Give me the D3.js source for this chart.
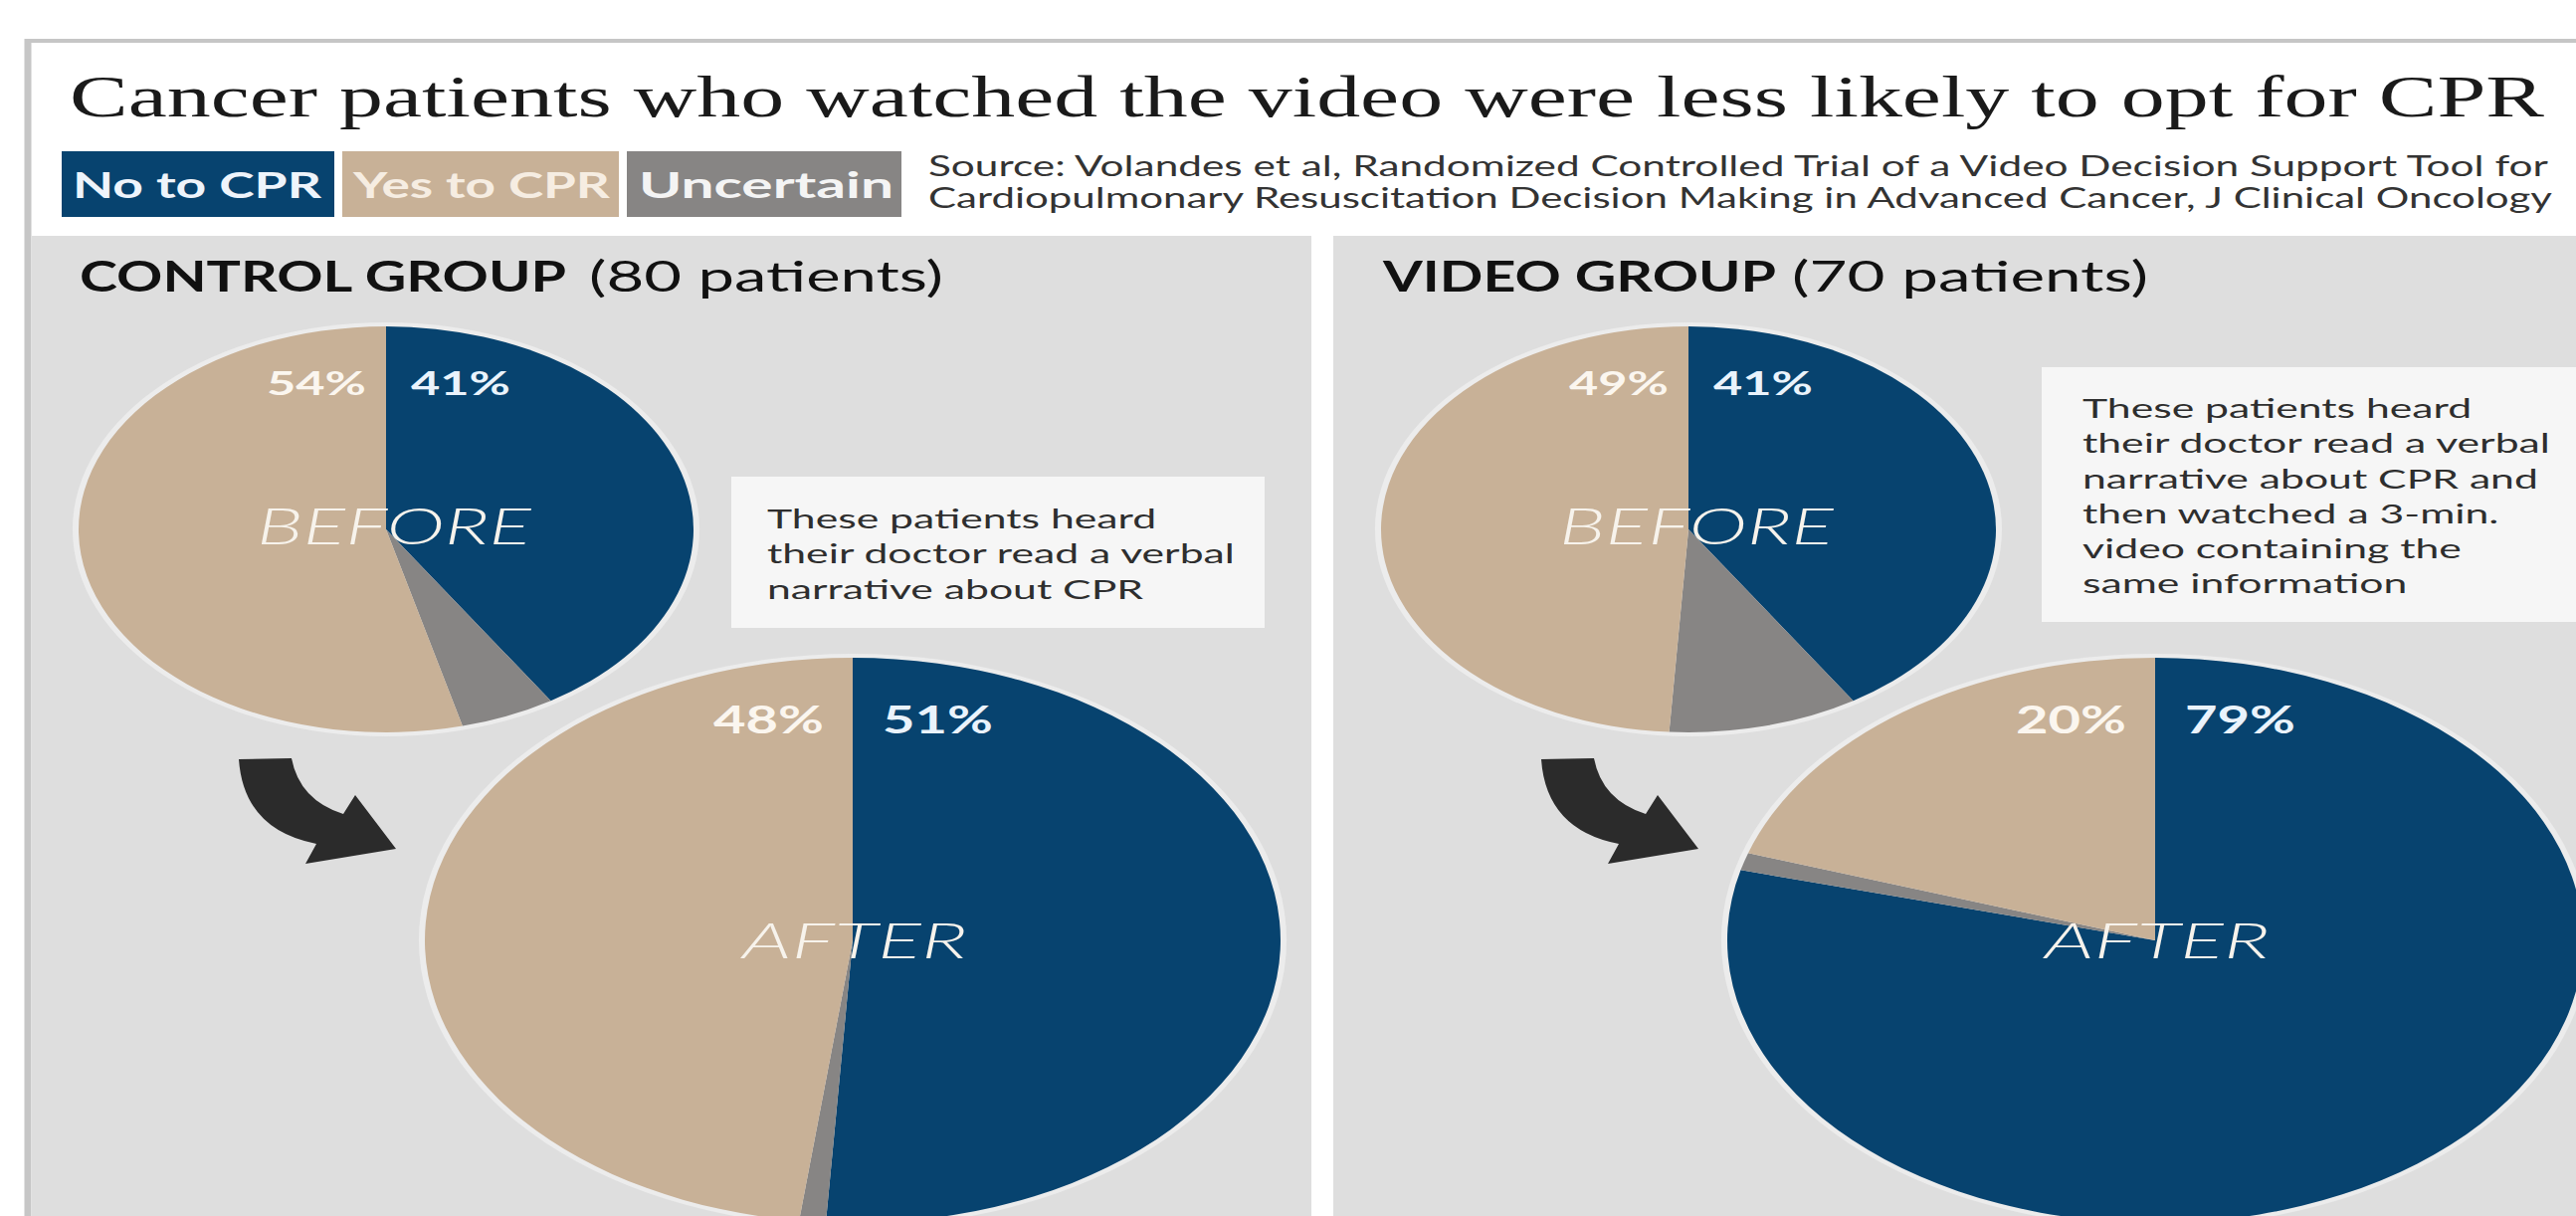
<!DOCTYPE html>
<html><head><meta charset="utf-8">
<script src="https://cdn.jsdelivr.net/npm/d3@7"></script>
<style>html,body{margin:0;padding:0;background:#fff;overflow:hidden}</style>
</head><body>
<svg id="chart" width="2589" height="1222" xmlns="http://www.w3.org/2000/svg"></svg>
<script>
// ---------------- data ----------------
const titleText = "Cancer patients who watched the video were less likely to opt for CPR";
const sourceLines = [
  "Source: Volandes et al, Randomized Controlled Trial of a Video Decision Support Tool for",
  "Cardiopulmonary Resuscitation Decision Making in Advanced Cancer, J Clinical Oncology"
];
const categories = ["No to CPR", "Yes to CPR", "Uncertain"];
const groupNames = ["CONTROL GROUP", "VIDEO GROUP"];
const groupPatients = [80, 70];
const stages = ["BEFORE", "AFTER"];
const beforeNo = [41, 41];
const beforeYes = [54, 49];
const beforeUncertain = [5, 10];
const afterNo = [51, 79];
const afterYes = [48, 20];
const afterUncertain = [1, 1];
const notes = [
  ["These patients heard", "their doctor read a verbal", "narrative about CPR"],
  ["These patients heard", "their doctor read a verbal", "narrative about CPR and",
   "then watched a 3-min.", "video containing the", "same information"]
];

// ---------------- drawing ----------------
const svg = d3.select("#chart");
const W = 2589, H = 1222;
const color = d3.scaleOrdinal(categories, ["#07436f", "#c8b197", "#878584"]);
const SANS = "Lato, 'Open Sans', 'Noto Sans', sans-serif";

svg.append("rect").attr("width", W).attr("height", H).attr("fill", "#ffffff");

// frame
svg.append("line").attr("x1", 27).attr("x2", W).attr("y1", 41).attr("y2", 41)
  .attr("stroke", "#c6c6c6").attr("stroke-width", 4);
svg.append("line").attr("x1", 28).attr("x2", 28).attr("y1", 39).attr("y2", H)
  .attr("stroke", "#c6c6c6").attr("stroke-width", 7);

// panels
svg.append("rect").attr("x", 32).attr("y", 237).attr("width", 1318 - 32).attr("height", H - 237).attr("fill", "#dedede");
svg.append("rect").attr("x", 1340).attr("y", 237).attr("width", W - 1340).attr("height", H - 237).attr("fill", "#dedede");

// title
svg.append("text").attr("x", 70).attr("y", 117)
  .attr("font-family", "'Liberation Serif', 'DejaVu Serif', serif")
  .attr("font-size", 60).attr("fill", "#1a1a1a")
  .attr("textLength", 2487).attr("lengthAdjust", "spacingAndGlyphs")
  .text(titleText);

// legend
const legendBoxes = [[62, 336], [344, 622], [630, 906]];
const legendText = [[73, 250], [355, 258], [642, 256]];
const legendTextColor = ["#eef4fb", "#f6ede2", "#f4f4f4"];
categories.forEach((c, i) => {
  svg.append("rect").attr("x", legendBoxes[i][0]).attr("y", 152)
    .attr("width", legendBoxes[i][1] - legendBoxes[i][0]).attr("height", 66)
    .attr("fill", color(c));
  svg.append("text").attr("x", legendText[i][0]).attr("y", 199)
    .attr("font-family", SANS).attr("font-weight", 700).attr("font-size", 37)
    .attr("fill", legendTextColor[i])
    .attr("textLength", legendText[i][1]).attr("lengthAdjust", "spacingAndGlyphs")
    .text(c);
});

// source
const srcY = [177, 209], srcW = [1628, 1632];
sourceLines.forEach((s, i) => {
  svg.append("text").attr("x", 933).attr("y", srcY[i])
    .attr("font-family", SANS).attr("font-size", 28).attr("fill", "#333333")
    .attr("textLength", srcW[i]).attr("lengthAdjust", "spacingAndGlyphs")
    .text(s);
});

// group geometry
const panelDx = [0, 1309];
const headBold = [[80, 489], [1390, 395]];
const headReg = [[592, 356], [1801, 358]];
const pie = d3.pie().sort(null).value(d => d.v);

function drawPie(g, cx, cy, rx, ry, no, unc, yes) {
  const sx = rx / ry;
  const grp = g.append("g").attr("transform", `translate(${cx},${cy}) scale(${sx},1)`);
  const halo = d3.arc().innerRadius(0).outerRadius(ry + 4);
  grp.append("path").attr("d", halo({startAngle: 0, endAngle: 2 * Math.PI}))
    .attr("fill", "#ececec");
  const arc = d3.arc().innerRadius(0).outerRadius(ry);
  const data = [{c: "No to CPR", v: no}, {c: "Uncertain", v: unc}, {c: "Yes to CPR", v: yes}];
  grp.selectAll("path.slice").data(pie(data)).join("path")
    .attr("class", "slice").attr("d", arc).attr("fill", d => color(d.data.c));
}

function pctLabel(g, x, y, w, size, anchor, fill, txt) {
  g.append("text").attr("x", x).attr("y", y).attr("text-anchor", anchor)
    .attr("font-family", SANS).attr("font-weight", 700).attr("font-size", size)
    .attr("fill", fill)
    .attr("textLength", w).attr("lengthAdjust", "spacingAndGlyphs")
    .text(txt);
}

function stageLabel(g, cx, y, w, size, txt) {
  g.append("text").attr("x", cx - w / 2).attr("y", y)
    .attr("font-family", SANS).attr("font-style", "italic").attr("font-weight", 300)
    .attr("font-size", size).attr("fill", "#f7f3ec")
    .attr("textLength", w).attr("lengthAdjust", "spacingAndGlyphs")
    .text(txt);
}

groupNames.forEach((name, gi) => {
  const dx = panelDx[gi];
  const g = svg.append("g");

  // header
  g.append("text").attr("x", headBold[gi][0]).attr("y", 293)
    .attr("font-family", SANS).attr("font-weight", 700).attr("font-size", 42).attr("fill", "#111")
    .attr("textLength", headBold[gi][1]).attr("lengthAdjust", "spacingAndGlyphs").text(name);
  g.append("text").attr("x", headReg[gi][0]).attr("y", 293)
    .attr("font-family", SANS).attr("font-weight", 400).attr("font-size", 42).attr("fill", "#111")
    .attr("textLength", headReg[gi][1]).attr("lengthAdjust", "spacingAndGlyphs")
    .text(`(${groupPatients[gi]} patients)`);

  // before pie
  const bcx = 388 + dx, bcy = 532;
  drawPie(g, bcx, bcy, 309, 204, beforeNo[gi], beforeUncertain[gi], beforeYes[gi]);
  pctLabel(g, bcx - 20, bcy - 135, 100, 33, "end", "#fbf6ef", beforeYes[gi] + "%");
  pctLabel(g, bcx + 25, bcy - 135, 100, 33, "start", "#eaf3fc", beforeNo[gi] + "%");
  stageLabel(g, bcx + 8, bcy + 15, 276, 51, stages[0]);

  // arrow
  const ax = dx;
  g.append("path")
    .attr("d", `M${240 + ax},763 L${293 + ax},762 Q${301 + ax},804 ${345 + ax},818 L${357 + ax},799 L${398 + ax},853 L${307 + ax},868 L${318 + ax},848 Q${245 + ax},834 ${240 + ax},763 Z`)
    .attr("fill", "#2b2b2b");

  // after pie
  const acx = 857 + dx, acy = 945;
  drawPie(g, acx, acy, 430, 284, afterNo[gi], afterUncertain[gi], afterYes[gi]);
  pctLabel(g, acx - 29, acy - 208, 111, 39, "end", "#fbf6ef", afterYes[gi] + "%");
  pctLabel(g, acx + 30, acy - 208, 111, 39, "start", "#eaf3fc", afterNo[gi] + "%");
  stageLabel(g, acx + 2, acy + 18, 226, 50, stages[1]);
});

// annotation boxes
const noteBox = [[735, 479, 536, 152], [2052, 369, 560, 256]];
const noteTextX = [771, 2093];
const noteY0 = [531, 420];
const noteStep = 35.3;
notes.forEach((lines, gi) => {
  const b = noteBox[gi];
  svg.append("rect").attr("x", b[0]).attr("y", b[1]).attr("width", b[2]).attr("height", b[3])
    .attr("fill", "#f6f6f6");
  const tg = svg.append("g");
  const texts = lines.map((ln, i) => tg.append("text").attr("x", 0).attr("y", noteY0[gi] + i * noteStep)
    .attr("font-family", SANS).attr("font-size", 26).attr("fill", "#2e2e2e").text(ln));
  const len = texts[1].node().getComputedTextLength() || 300;
  const k = 470 / len;
  tg.attr("transform", `translate(${noteTextX[gi]},0) scale(${k},1)`);
});
</script>
</body></html>
